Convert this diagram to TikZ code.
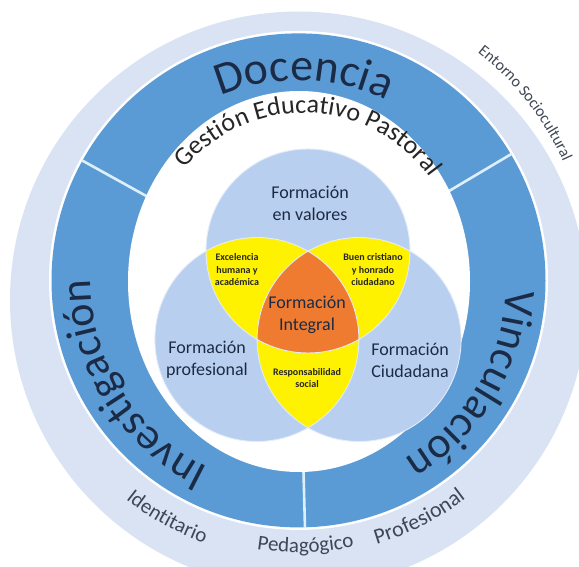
\documentclass[tikz,border=0pt]{standalone}
\usepackage{fontspec}
\setmainfont{Carlito}
\usetikzlibrary{calc,decorations.text}

\definecolor{ringlight}{HTML}{DAE3F3}
\definecolor{bandblue}{HTML}{5B9BD5}
\definecolor{vennblue}{HTML}{B8CFEF}
\definecolor{lensyellow}{HTML}{FFF200}
\definecolor{coreorange}{HTML}{EE7B30}
\definecolor{darknavy}{HTML}{1C2B45}
\definecolor{graytext}{HTML}{3F4756}
\definecolor{dividerline}{HTML}{DDF0FA}

\tikzset{
  vennline/.style={draw=white!60!vennblue, line width=0.9pt},
  divider/.style={draw=dividerline, line width=2.6pt},
  vennlabel/.style={text=darknavy, align=center, inner sep=0pt,
    font=\fontsize{18}{22}\selectfont},
  lenslabel/.style={text=black!85, align=center, inner sep=0pt,
    font=\bfseries\fontsize{10}{12.5}\selectfont},
}

\begin{document}
\begin{tikzpicture}[x=1pt, y=1pt]
\useasboundingbox (0,0) rectangle (579,566);

% rings
\coordinate (c) at (298.5,285.6);
\coordinate (g) at (304,298);
\fill[ringlight] (298.5,266) circle[radius=288.5];
\fill[white] (c) circle[radius=249.5];
\fill[bandblue] (c) circle[radius=247];
\foreach \a in {30.7,151,271.5}
  \draw[divider] ($(c)+(\a:150)$) -- ($(c)+(\a:248)$);
\fill[white] (299,284.5) ellipse[x radius=171, y radius=190.5];

% venn
\coordinate (vt) at (308,315);
\coordinate (vl) at (256.9,226.5);
\coordinate (vr) at (359.1,226.5);
\foreach \p in {vt,vl,vr}
  \fill[vennblue] (\p) circle[radius=102];
\begin{scope}
  \clip (vt) circle[radius=102];
  \fill[lensyellow] (vl) circle[radius=102];
  \fill[lensyellow] (vr) circle[radius=102];
\end{scope}
\begin{scope}
  \clip (vl) circle[radius=102];
  \fill[lensyellow] (vr) circle[radius=102];
\end{scope}
\begin{scope}
  \clip (vt) circle[radius=102];
  \clip (vl) circle[radius=102];
  \fill[coreorange] (vr) circle[radius=102];
\end{scope}
\foreach \p in {vt,vl,vr}
  \draw[vennline] (\p) circle[radius=102];

\node[vennlabel] (valores) at (310,363) {Formación\\en valores};
\node[vennlabel] (profesional) at (207,206) {Formación\\profesional};
\node[vennlabel] (ciudadana) at (410,206) {Formación\\Ciudadana};
\node[vennlabel] (integral) at (307,251) {Formación\\Integral};
\node[lenslabel] (excelencia) at (237,296) {Excelencia\\humana y\\académica};
\node[lenslabel] (buen) at (373,296) {Buen cristiano\\y honrado\\ciudadano};
\node[lenslabel] (social) at (307,188) {Responsabilidad\\social};

% band titles
\path[decorate, decoration={text along path, text align=center, text color=darknavy,
    text={|\fontsize{46}{50}\selectfont|Docencia}}]
  ($(c)+(168.5:200)$) arc[start angle=168.5, end angle=8.5, radius=200];
\path[decorate, decoration={text along path, text align=center, text color=darknavy,
    text={|\fontsize{44}{48}\selectfont|Vinculación}}]
  ($(c)+(49:208)$) arc[start angle=49, end angle=-111, radius=208];
\path[decorate, decoration={text along path, text align=center, text color=darknavy,
    text={|\fontsize{44}{48}\selectfont|Investigación}}]
  ($(c)+(292:208)$) arc[start angle=292, end angle=132, radius=208];
\path[decorate, decoration={text along path, text align=center, text color=black!85,
    text={|\fontsize{26}{30}\selectfont|Gestión Educativo Pastoral}}]
  ($(g)+(174:155)$) arc[start angle=174, end angle=2, radius=155];

% outer ring words
\path[decorate, decoration={text along path, text align=center, text color=graytext,
    text={|\fontsize{16}{18}\selectfont|Entorno Sociocultural}}]
  ($(c)+(76:290)$) arc[start angle=76, end angle=0, radius=290];
\path[decorate, decoration={text along path, text align=center, text color=graytext,
    text={|\fontsize{21}{24}\selectfont|Identitario}}]
  ($(c)+(206:279)$) arc[start angle=206, end angle=276, radius=279];
\path[decorate, decoration={text along path, text align=center, text color=graytext,
    text={|\fontsize{21}{24}\selectfont|Pedagógico}}]
  ($(c)+(236.5:272)$) arc[start angle=236.5, end angle=306.5, radius=272];
\path[decorate, decoration={text along path, text align=center, text color=graytext,
    text={|\fontsize{22}{25}\selectfont|Profesional}}]
  ($(c)+(262:275)$) arc[start angle=262, end angle=332, radius=275];
\end{tikzpicture}
\end{document}
